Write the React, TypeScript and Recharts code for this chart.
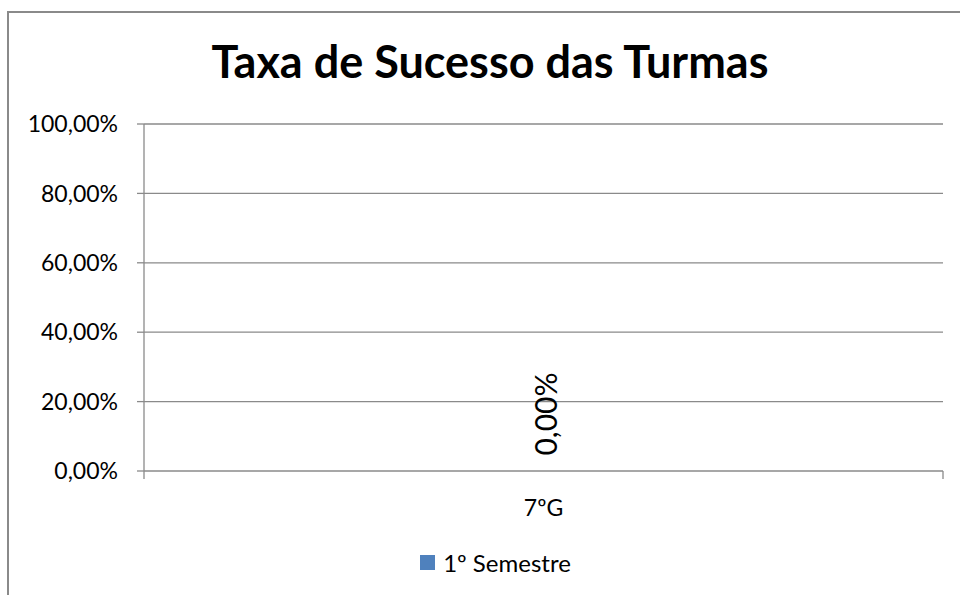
import React from 'react';
import { BarChart, Bar, XAxis, YAxis, CartesianGrid, Legend, ReferenceDot } from 'recharts';

const categories = ['7ºG'];
const semestre1 = [0];
const yTicks = [0, 20, 40, 60, 80, 100];
const seriesName = '1º Semestre';
const title = 'Taxa de Sucesso das Turmas';

const data = categories.map((c, i) => ({ name: c, s1: semestre1[i], pos: 0.5 }));

const FONT = 'Lato, "Open Sans", sans-serif';
const GRID = '#8a8a8a';
const BLUE = '#4f81bd';

const fmt = (v: number) => Number(v).toFixed(2).replace('.', ',') + '%';

const RotLabel = (props: any) => {
  const vb = props.viewBox || {};
  const x = props.x ?? vb.x;
  const y = props.y ?? vb.y;
  const width = props.width ?? vb.width ?? 0;
  const cx = Number(x) + Number(width) / 2 + 1;
  const cy = Number(y) - 57;
  if (!isFinite(cx) || !isFinite(cy)) return null;
  return (
    <text
      x={cx}
      y={cy}
      transform={`rotate(-90 ${cx} ${cy})`}
      textAnchor="middle"
      dominantBaseline="central"
      fontSize={30}
      fontFamily={FONT}
      fill="#000"
    >
      {fmt(props.value)}
    </text>
  );
};

const LegendContent = () => (
  <div
    style={{
      display: 'flex',
      justifyContent: 'center',
      alignItems: 'center',
      height: 30,
      paddingLeft: 40,
      fontFamily: FONT,
      fontSize: 24,
      color: '#000',
    }}
  >
    <span style={{ display: 'inline-block', width: 15, height: 15, background: BLUE, marginRight: 8 }} />
    <span>{seriesName}</span>
  </div>
);

export default function App() {
  return (
    <div style={{ position: 'absolute', left: 0, top: 0, width: 960, height: 595, background: '#fff', overflow: 'hidden' }}>
      <div
        style={{
          position: 'absolute',
          left: 7,
          top: 11,
          width: 960,
          height: 600,
          borderTop: `2px solid ${GRID}`,
          borderLeft: `2px solid ${GRID}`,
        }}
      />
      <div
        style={{
          position: 'absolute',
          left: 90,
          width: 800,
          top: 34,
          textAlign: 'center',
          fontFamily: FONT,
          fontWeight: 700,
          fontSize: 45,
          lineHeight: '54px',
          color: '#000',
        }}
      >
        {title}
      </div>
      <BarChart width={960} height={595} data={data} margin={{ top: 124, right: 17, bottom: 18, left: 8 }}>
        <CartesianGrid vertical={false} stroke={GRID} strokeWidth={1.3} />
        <XAxis
          xAxisId="a"
          dataKey="pos"
          type="number"
          domain={[0, 1]}
          ticks={[0, 1]}
          padding={{ left: 0, right: 0 }}
          tickFormatter={() => ''}
          axisLine={false}
          tickLine={{ stroke: GRID, strokeWidth: 1.3 }}
          tickSize={8}
          height={1}
        />
        <XAxis
          xAxisId="b"
          dataKey="name"
          axisLine={false}
          tickLine={false}
          tickSize={0}
          tickMargin={28}
          height={75}
          tick={{ fill: '#000', fontSize: 23, fontFamily: FONT }}
        />
        <YAxis
          domain={[0, 100]}
          ticks={yTicks}
          tickFormatter={fmt}
          width={136}
          axisLine={{ stroke: GRID, strokeWidth: 1.3 }}
          tickLine={{ stroke: GRID, strokeWidth: 1.3 }}
          tickSize={7}
          tickMargin={19}
          tick={{ fill: '#000', fontSize: 23, fontFamily: FONT }}
        />
        <Legend verticalAlign="bottom" content={LegendContent} />
        <Bar xAxisId="b" dataKey="s1" name={seriesName} fill={BLUE} isAnimationActive={false} />
        {categories.map((c, i) => (
          <ReferenceDot
            key={c}
            xAxisId="b"
            x={c}
            y={semestre1[i]}
            r={0}
            fill="none"
            stroke="none"
            ifOverflow="visible"
            label={(p: any) => <RotLabel {...p} value={semestre1[i]} />}
          />
        ))}
      </BarChart>
    </div>
  );
}
